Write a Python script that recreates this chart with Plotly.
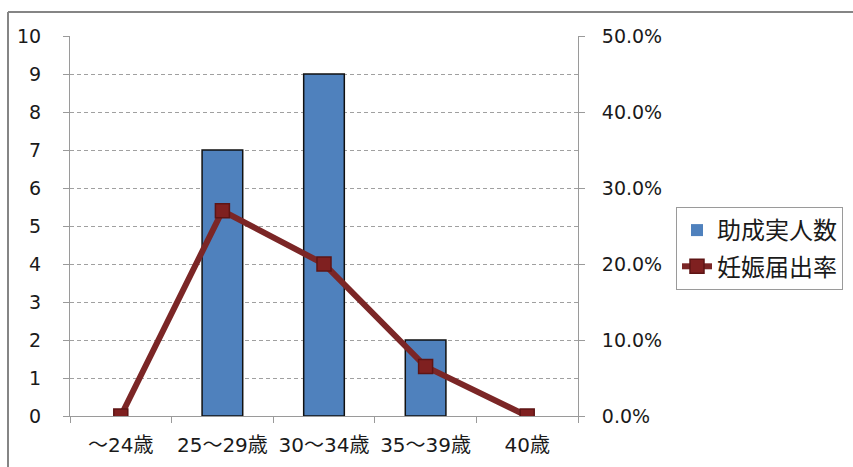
import plotly.graph_objects as go

# Age groups and values
age_groups = ["～24歳", "25～29歳", "30～34歳", "35～39歳", "40歳"]
recipients = [0, 7, 9, 2, 0]            # 助成実人数
pregnancy_rate = [0.0, 0.27, 0.20, 0.065, 0.0]  # 妊娠届出率

left_ticks = list(range(0, 11))
right_ticks = [0.0, 0.1, 0.2, 0.3, 0.4, 0.5]

FONT = "DejaVu Sans, Noto Sans CJK JP, sans-serif"
CJK = "Noto Sans CJK JP, sans-serif"
TEXT = "#1a1a1a"
AXIS = "#9a9a9a"
GRID = "#a0a0a0"

fig = go.Figure()

fig.add_trace(go.Bar(
    x=age_groups,
    y=recipients,
    name="助成実人数",
    legendgroup="bars",
    marker=dict(color="#4F81BD",
                line=dict(color="#111111",
                          width=[1.5 if v > 0 else 0 for v in recipients])),
    width=0.4,
))

fig.add_trace(go.Scatter(
    x=age_groups,
    y=pregnancy_rate,
    name="妊娠届出率",
    legendgroup="rate",
    yaxis="y2",
    mode="lines+markers",
    line=dict(color="#7B2626", width=6),
    marker=dict(symbol="square", size=14, color="#7F2020",
                line=dict(color="#5E1414", width=1.5)),
))

# Plot area: x 70..578, y 36..416 in an 853x467 canvas
L, R, T, B = 70, 275, 36, 51
W, H = 853 - L - R, 467 - T - B

def px_x(x):
    return (x - L) / W

def px_y(y):
    return (467 - B - y) / H

fig.update_layout(
    width=853,
    height=467,
    margin=dict(l=L, r=R, t=T, b=B, autoexpand=False),
    paper_bgcolor="white",
    plot_bgcolor="white",
    font=dict(family=FONT, size=19, color=TEXT),
    showlegend=True,
    legend=dict(
        x=px_x(676), y=px_y(207), xanchor="left", yanchor="top",
        bordercolor="#9a9a9a", borderwidth=1,
        font=dict(size=24, family=CJK, color=TEXT),
        itemwidth=30,
        tracegroupgap=2,
    ),
    xaxis=dict(
        type="category",
        showline=True, linecolor=AXIS, linewidth=1,
        ticks="outside", tickson="boundaries", ticklen=6, tickcolor=AXIS,
        showgrid=False,
        tickangle=0, automargin=False,
        tickfont=dict(size=20, family=FONT, color=TEXT),
        ticklabelstandoff=11,
    ),
    yaxis=dict(
        range=[0, 10], tickvals=left_ticks,
        showline=True, linecolor=AXIS, linewidth=1,
        ticks="outside", ticklen=6, tickcolor=AXIS,
        showgrid=True, gridcolor=GRID, griddash="4px,3px", gridwidth=1,
        zeroline=False, automargin=False,
        tickfont=dict(size=19, family=FONT, color=TEXT),
        ticklabelstandoff=18,
    ),
    yaxis2=dict(
        range=[0, 0.5], tickvals=right_ticks, tickformat=".1%",
        overlaying="y", side="right",
        showline=True, linecolor=AXIS, linewidth=1,
        ticks="outside", ticklen=6, tickcolor=AXIS,
        showgrid=False, zeroline=False, automargin=False,
        tickfont=dict(size=19, family=FONT, color=TEXT),
        ticklabelstandoff=13,
    ),
    bargap=0.6,
    shapes=[
        # outer frame (top and left edges)
        dict(type="line", xref="paper", yref="paper",
             x0=px_x(8), x1=px_x(853), y0=px_y(12), y1=px_y(12),
             line=dict(color="#858585", width=2)),
        dict(type="line", xref="paper", yref="paper",
             x0=px_x(8), x1=px_x(8), y0=px_y(12), y1=px_y(467),
             line=dict(color="#858585", width=2)),
    ],
)

fig.write_html("out.html")
